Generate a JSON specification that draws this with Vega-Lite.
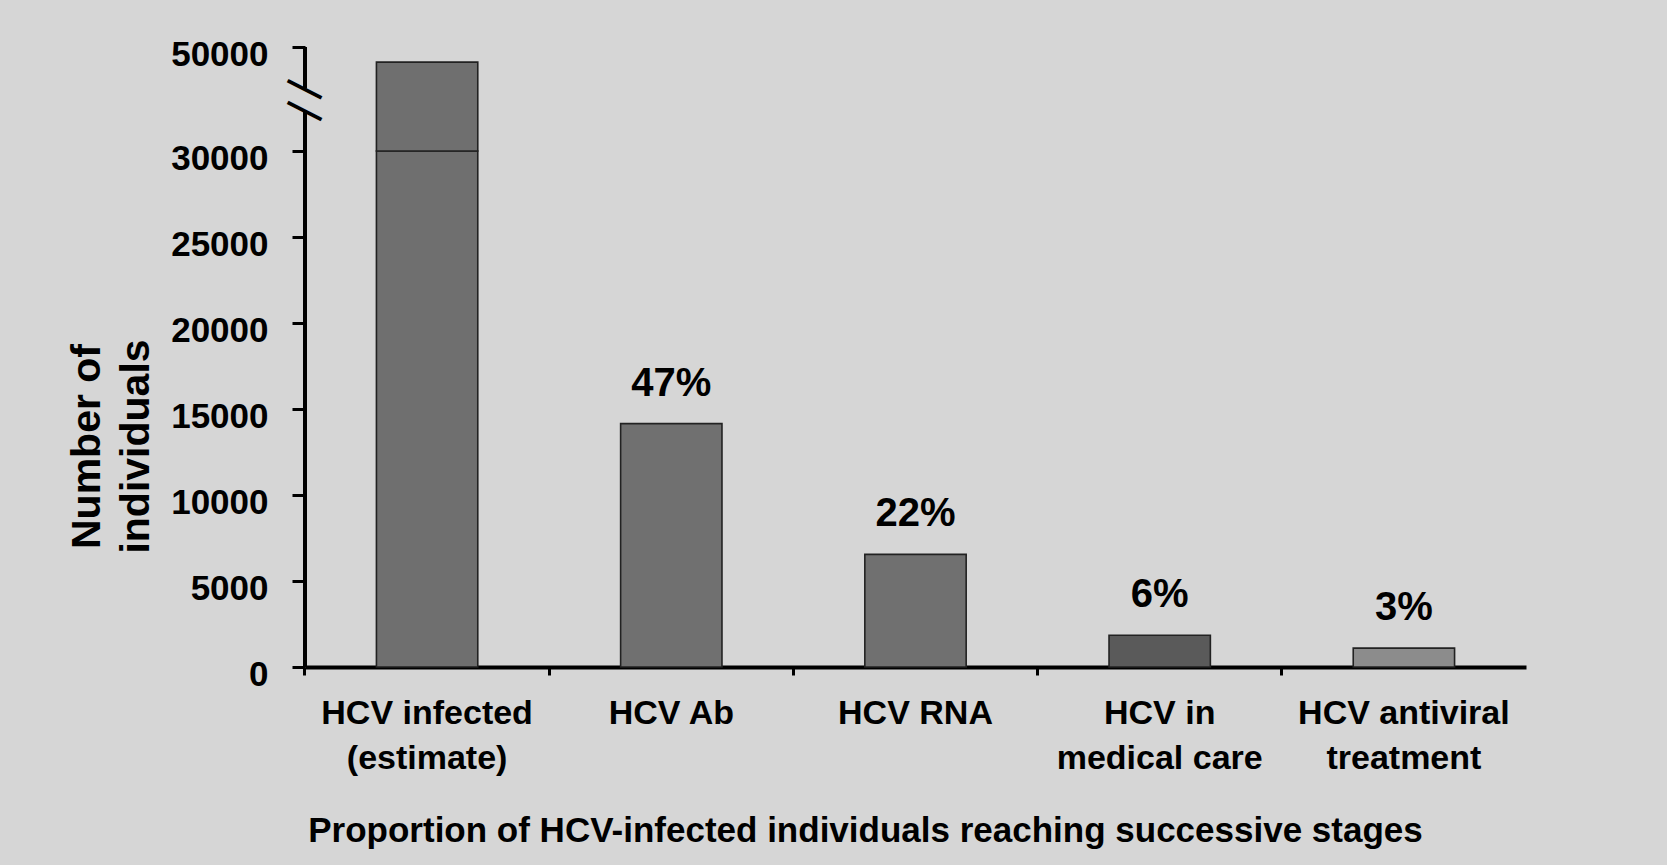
{
  "$schema": "https://vega.github.io/schema/vega-lite/v6.json",
  "width": 1221,
  "height": 620,
  "autosize": {"type": "none"},
  "padding": {"left": 305, "top": 47, "right": 141, "bottom": 198},
  "background": "#d6d6d6",
  "view": {"stroke": null},
  "config": {
    "font": "Liberation Sans",
    "axis": {"labelFont": "Liberation Sans", "titleFont": "Liberation Sans", "labelFontWeight": "bold", "titleFontWeight": "bold", "labelColor": "#000", "titleColor": "#000"}
  },
  "datasets": {
    "bars": [
      {"stage": "HCV infected|(estimate)", "lo": 0, "hi": 30000, "pct": null},
      {"stage": "HCV infected|(estimate)", "lo": 30000, "hi": 47100, "pct": null},
      {"stage": "HCV Ab", "lo": 0, "hi": 14150, "pct": "47%"},
      {"stage": "HCV RNA", "lo": 0, "hi": 6550, "pct": "22%"},
      {"stage": "HCV in|medical care", "lo": 0, "hi": 1850, "pct": "6%"},
      {"stage": "HCV antiviral|treatment", "lo": 0, "hi": 1100, "pct": "3%"}
    ],
    "axisline": [
      {"lo": 0, "hi": 37800},
      {"lo": 42000, "hi": 50000}
    ],
    "breaks": [
      {"at": 42000},
      {"at": 37800}
    ]
  },
  "layer": [
    {
      "data": {"name": "bars"},
      "mark": {"type": "bar", "stroke": "#222222", "strokeWidth": 1.6},
      "encoding": {
        "x": {
          "field": "stage", "type": "nominal", "sort": null,
          "scale": {"paddingInner": 0.585, "paddingOuter": 0.2925},
          "axis": {
            "title": "Proportion of HCV-infected individuals reaching successive stages",
            "titleFontSize": 35, "titleX": 560, "titleY": 163, "titleBaseline": "middle",
            "labelExpr": "split(datum.label, '|')",
            "labelFontSize": 34, "labelLineHeight": 45, "labelAngle": 0, "labelPadding": 21, "labelLimit": 0,
            "domainColor": "#000", "domainWidth": 4,
            "bandPosition": -0.705, "tickColor": "#000", "tickWidth": 3, "tickSize": 8
          }
        },
        "y": {
          "field": "hi", "type": "quantitative",
          "scale": {"domain": [0, 30000, 50000], "range": [620, 104, 0], "zero": false, "nice": false},
          "axis": {
            "title": ["Number of", "individuals"],
            "titleFontSize": 41, "titleLineHeight": 49, "titleAngle": -90,
            "titleX": -218, "titleY": 399, "titleAlign": "center", "titleBaseline": "middle",
            "values": [0, 5000, 10000, 15000, 20000, 25000, 30000, 50000],
            "format": "d",
            "labelFontSize": 35, "labelPadding": 24, "labelOffset": 7,
            "domain": false, "grid": false,
            "tickColor": "#000", "tickWidth": 3, "tickSize": 13
          }
        },
        "y2": {"field": "lo"},
        "fill": {
          "field": "stage", "type": "nominal", "legend": null,
          "scale": {
            "domain": ["HCV infected|(estimate)", "HCV Ab", "HCV RNA", "HCV in|medical care", "HCV antiviral|treatment"],
            "range": ["#6f6f6f", "#707070", "#707070", "#5a5a5a", "#8c8c8c"]
          }
        }
      }
    },
    {
      "data": {"name": "bars"},
      "transform": [{"filter": "datum.pct != null"}],
      "mark": {"type": "text", "fontSize": 40, "fontWeight": "bold", "color": "#000", "baseline": "alphabetic", "dy": -28},
      "encoding": {
        "x": {"field": "stage", "type": "nominal", "sort": null},
        "y": {"field": "hi", "type": "quantitative"},
        "text": {"field": "pct"}
      }
    },
    {
      "data": {"name": "axisline"},
      "mark": {"type": "rule", "color": "#000", "strokeWidth": 4},
      "encoding": {
        "x": {"value": 0},
        "y": {"field": "lo", "type": "quantitative"},
        "y2": {"field": "hi"}
      }
    },
    {
      "data": {"name": "breaks"},
      "mark": {"type": "text", "text": "—", "fontSize": 38, "fontWeight": "bold", "color": "#000", "angle": 27, "align": "center", "baseline": "middle"},
      "encoding": {
        "x": {"value": 0},
        "y": {"field": "at", "type": "quantitative"}
      }
    }
  ]
}
